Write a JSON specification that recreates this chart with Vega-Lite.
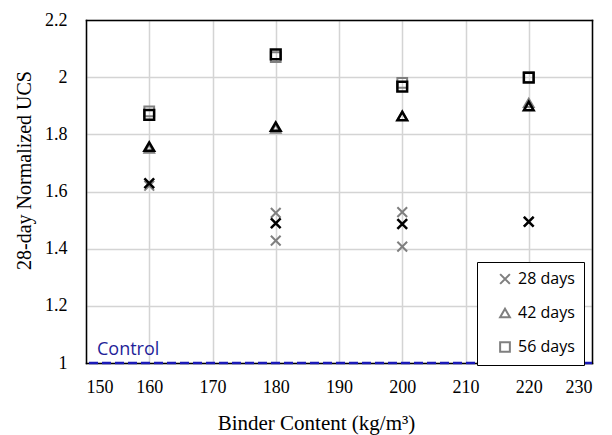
{
  "$schema": "https://vega.github.io/schema/vega-lite/v6.json",
  "width": 506,
  "height": 343,
  "autosize": {"type": "none"},
  "padding": {"left": 86, "top": 20, "right": 20, "bottom": 72},
  "background": "white",
  "config": {
    "view": {"stroke": null},
    "axis": {
      "labelFont": "Liberation Serif",
      "titleFont": "Liberation Serif",
      "labelColor": "#000000",
      "titleColor": "#000000",
      "labelFontSize": 18,
      "titleFontSize": 20,
      "titleFontWeight": "normal",
      "domain": true,
      "domainColor": "#000000",
      "domainWidth": 1.5,
      "domainCap": "square",
      "ticks": false,
      "tickSize": 0,
      "gridColor": "#d4d4d4",
      "gridWidth": 1.5,
      "zindex": 0
    }
  },
  "resolve": {"axis": {"x": "independent", "y": "independent"}},
  "datasets": {
    "pts": [
      {"binder": 160, "age": "28 days", "value": 1.62, "kind": "rep"},
      {"binder": 160, "age": "42 days", "value": 1.75, "kind": "rep"},
      {"binder": 160, "age": "56 days", "value": 1.88, "kind": "rep"},
      {"binder": 180, "age": "28 days", "value": 1.525, "kind": "rep"},
      {"binder": 180, "age": "28 days", "value": 1.428, "kind": "rep"},
      {"binder": 180, "age": "42 days", "value": 1.82, "kind": "rep"},
      {"binder": 180, "age": "56 days", "value": 2.07, "kind": "rep"},
      {"binder": 200, "age": "28 days", "value": 1.528, "kind": "rep"},
      {"binder": 200, "age": "28 days", "value": 1.407, "kind": "rep"},
      {"binder": 200, "age": "42 days", "value": 1.865, "kind": "rep"},
      {"binder": 200, "age": "56 days", "value": 1.98, "kind": "rep"},
      {"binder": 220, "age": "28 days", "value": 1.495, "kind": "rep"},
      {"binder": 220, "age": "42 days", "value": 1.91, "kind": "rep"},
      {"binder": 220, "age": "56 days", "value": 2.0, "kind": "rep"},
      {"binder": 160, "age": "28 days", "value": 1.629, "kind": "mean"},
      {"binder": 160, "age": "42 days", "value": 1.757, "kind": "mean"},
      {"binder": 160, "age": "56 days", "value": 1.868, "kind": "mean"},
      {"binder": 180, "age": "28 days", "value": 1.489, "kind": "mean"},
      {"binder": 180, "age": "42 days", "value": 1.827, "kind": "mean"},
      {"binder": 180, "age": "56 days", "value": 2.08, "kind": "mean"},
      {"binder": 200, "age": "28 days", "value": 1.486, "kind": "mean"},
      {"binder": 200, "age": "42 days", "value": 1.864, "kind": "mean"},
      {"binder": 200, "age": "56 days", "value": 1.967, "kind": "mean"},
      {"binder": 220, "age": "28 days", "value": 1.494, "kind": "mean"},
      {"binder": 220, "age": "42 days", "value": 1.899, "kind": "mean"},
      {"binder": 220, "age": "56 days", "value": 1.998, "kind": "mean"}
    ],
    "control": [
      {"binder": 150, "value": 1, "label": "Control"}
    ]
  },
  "layer": [
    {
      "data": {"name": "pts"},
      "transform": [{"filter": "datum.kind === 'rep'"}],
      "mark": {"type": "point", "filled": false, "color": "#7f7f7f", "strokeWidth": 2, "size": 95, "opacity": 1},
      "encoding": {
        "x": {
          "field": "binder", "type": "quantitative",
          "scale": {"domain": [150, 230], "nice": false, "zero": false},
          "axis": {"orient": "bottom", "values": [150, 160, 170, 180, 190, 200, 210, 220, 230], "labelPadding": 15, "title": "Binder Content (kg/m³)", "titleFontSize": 21, "titlePadding": 16, "titleX": 230, "titleAlign": "center"}
        },
        "y": {
          "field": "value", "type": "quantitative",
          "scale": {"domain": [1, 2.2], "nice": false, "zero": false},
          "axis": {"orient": "left", "values": [1, 1.2, 1.4, 1.6, 1.8, 2, 2.2], "format": ".1~f", "labelPadding": 19, "title": "28-day Normalized UCS", "titlePadding": 10, "titleY": 150, "titleAlign": "center"}
        },
        "shape": {
          "field": "age", "type": "nominal",
          "scale": {"domain": ["28 days", "42 days", "56 days"], "range": ["M-1,-1L1,1M-1,1L1,-1", "triangle-up", "square"]},
          "legend": {
            "title": null,
            "orient": "none",
            "legendX": 391,
            "legendY": 242,
            "padding": 9,
            "strokeColor": "#000000",
            "fillColor": "#ffffff",
            "labelFont": "Open Sans",
            "labelFontSize": 16,
            "labelColor": "#000000",
            "labelOffset": 5,
            "symbolOffset": 11,
            "symbolSize": 95,
            "symbolStrokeColor": "#7f7f7f",
            "symbolFillColor": "transparent",
            "symbolStrokeWidth": 2,
            "rowPadding": 16,
            "labelExpr": "datum.label + '\u00a0\u00a0\u00a0\u00a0'"
          }
        }
      }
    },
    {
      "data": {"name": "pts"},
      "transform": [{"filter": "datum.kind === 'mean'"}],
      "mark": {"type": "point", "filled": false, "color": "#000000", "strokeWidth": 2.5, "size": 95, "opacity": 1},
      "encoding": {
        "x": {"field": "binder", "type": "quantitative", "axis": {"orient": "top", "labels": false, "grid": false, "title": null}},
        "y": {"field": "value", "type": "quantitative", "axis": {"orient": "right", "labels": false, "grid": false, "title": null}},
        "shape": {"field": "age", "type": "nominal"}
      }
    },
    {
      "data": {"name": "control"},
      "mark": {"type": "rule", "color": "#1a1ab8", "strokeWidth": 2.5, "strokeDash": [9, 4]},
      "encoding": {
        "y": {"field": "value", "type": "quantitative", "axis": null}
      }
    },
    {
      "data": {"name": "control"},
      "mark": {"type": "text", "font": "Open Sans", "fontSize": 18, "color": "#1f1f99", "align": "left", "baseline": "alphabetic", "dx": 11, "dy": -8},
      "encoding": {
        "x": {"field": "binder", "type": "quantitative", "axis": null},
        "y": {"field": "value", "type": "quantitative", "axis": null},
        "text": {"field": "label"}
      }
    }
  ]
}
